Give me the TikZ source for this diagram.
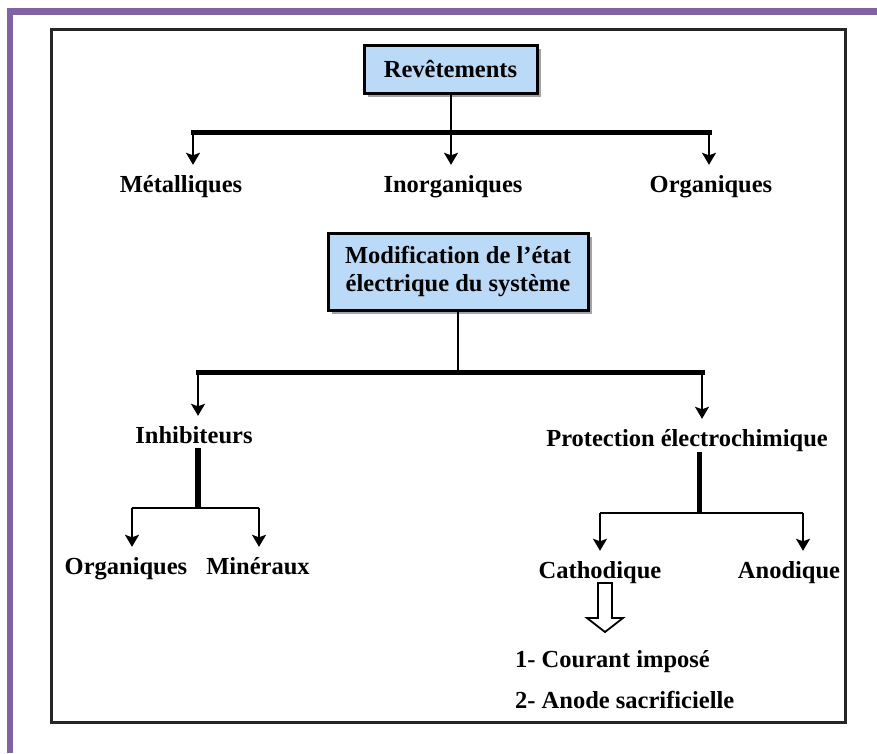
\documentclass[tikz,border=0pt]{standalone}
\usepackage{fontspec}
\setmainfont{Liberation Serif}
\usepackage{xcolor}
\usetikzlibrary{arrows.meta, shadows}
\definecolor{framepurple}{HTML}{8064A2}
\definecolor{boxblue}{HTML}{BBDAF8}

\begin{document}
\begin{tikzpicture}[x=1pt, y=-1pt,
  font=\fontsize{24.5}{28}\selectfont\bfseries,
  titlebox/.style={draw=black, line width=3pt, fill=boxblue, align=center, inner sep=0pt,
    drop shadow={shadow xshift=3.5pt, shadow yshift=-3.5pt, fill=black!60, opacity=0.6}},
  lbl/.style={inner xsep=0pt, inner ysep=10pt, text height=17pt, text depth=5pt},
  stem/.style={line width=2pt},
  heavy/.style={line width=5pt, line cap=rect},
  arr/.style={line width=2pt, -{Stealth[length=12pt, width=14pt, inset=2.5pt]}}]
  % page, purple border and outer frame
  \useasboundingbox (0,0) rectangle (877,753);
  \fill[framepurple] (7,8) rectangle (877,15);
  \fill[framepurple] (7,8) rectangle (13,753);
  \draw[line width=3pt, black!85] (51,29) rectangle (845,722);

  % revetements
  \node[titlebox, minimum width=173pt, minimum height=48pt] (rev) at (450.5,69) {Revêtements};
  \coordinate (b1l) at (193,132);
  \coordinate (b1m) at (451,132);
  \coordinate (b1r) at (709,132);
  \node[lbl] (met) at (181,186) {Métalliques};
  \node[lbl] (inorg) at (453,186) {Inorganiques};
  \node[lbl] (org) at (711,186) {Organiques};
  \draw[stem] (rev.south) -- (rev.south |- b1m);
  \draw[heavy] (b1l) -- (b1r);
  \draw[arr] (b1l) -- (b1l |- met.north);
  \draw[arr] (b1m) -- (b1m |- inorg.north);
  \draw[arr] (b1r) -- (b1r |- org.north);

  % modification de l'etat electrique
  \node[titlebox, minimum width=260pt, minimum height=77pt] (mod) at (458,271.5)
    {Modification de l’état\\électrique du système};
  \coordinate (b2l) at (198,372);
  \coordinate (b2r) at (702,372);
  \node[lbl] (inh) at (194,437) {Inhibiteurs};
  \node[lbl] (prot) at (687,440) {Protection électrochimique};
  \draw[stem, line width=2.5pt] (mod.south) -- (mod.south |- b2l);
  \draw[heavy] (b2l) -- (b2r);
  \draw[arr] (b2l) -- (b2l |- inh.north);
  \draw[arr] (b2r) -- (b2r |- prot.north);

  % inhibiteurs
  \coordinate (b3) at (198,508);
  \coordinate (b3l) at (132,508);
  \coordinate (b3r) at (259,508);
  \node[lbl] (orgi) at (126,568) {Organiques};
  \node[lbl] (min) at (258,568) {Minéraux};
  \draw[line width=6pt, shorten <=-10pt] (inh.south -| b3) -- (b3);
  \draw[stem, line width=2.5pt] (b3l) -- (b3r);
  \draw[arr] (b3l) -- (b3l |- orgi.north);
  \draw[arr] (b3r) -- (b3r |- min.north);

  % protection electrochimique
  \coordinate (b4) at (699,513);
  \coordinate (b4l) at (600,513);
  \coordinate (b4r) at (803,513);
  \node[lbl] (cat) at (600,572) {Cathodique};
  \node[lbl] (ano) at (789,572) {Anodique};
  \draw[line width=5pt, shorten <=-9pt] (prot.south -| b4) -- (b4);
  \draw[stem, line width=2.5pt] (b4l) -- (b4r);
  \draw[arr] (b4l) -- (b4l |- cat.north);
  \draw[arr] (b4r) -- (b4r |- ano.north);

  % hollow arrow and the two methods
  \draw[line width=1.8pt, fill=white] (598,583) -- (612,583) -- (612,618) -- (623,618)
    -- (605,632) -- (587,618) -- (598,618) -- cycle;
  \node[anchor=west, inner sep=0pt] (cour) at (515,662) {1- Courant imposé};
  \node[anchor=west, inner sep=0pt] (anod) at (515,700) {2- Anode sacrificielle};
\end{tikzpicture}
\end{document}
